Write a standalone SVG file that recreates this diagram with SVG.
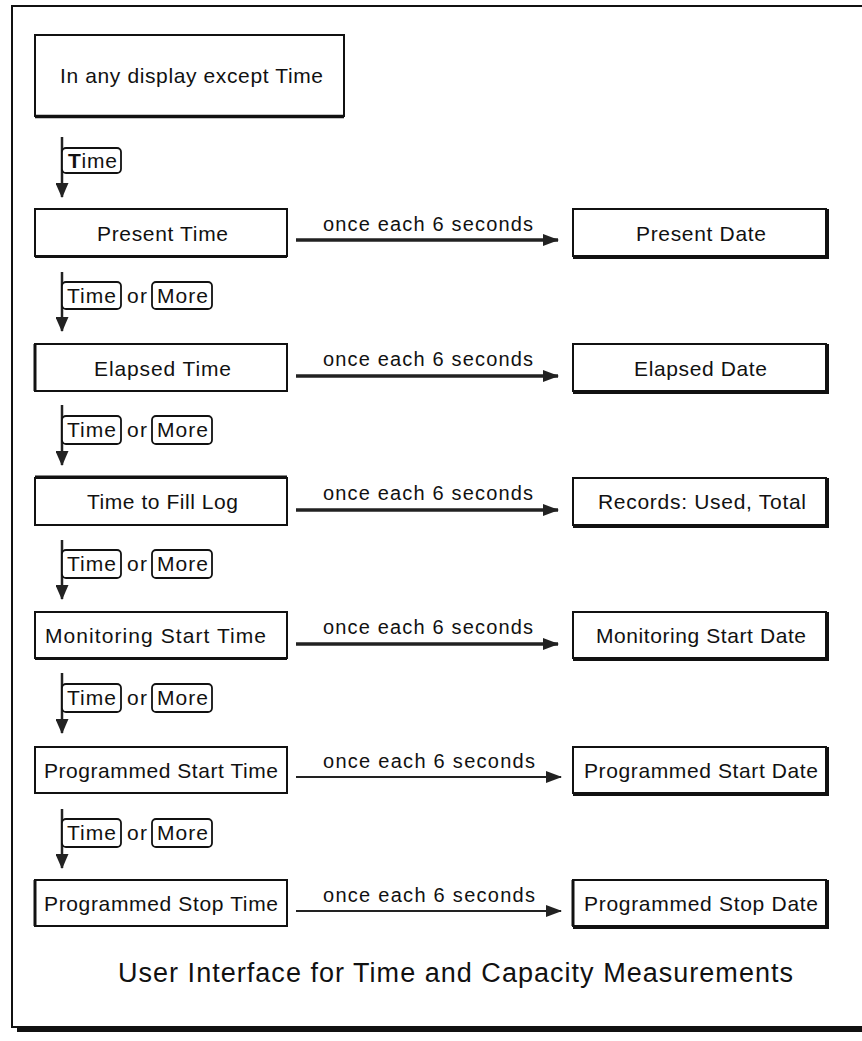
<svg xmlns="http://www.w3.org/2000/svg" width="862" height="1041" viewBox="0 0 862 1041">
<defs>
<style>
.t{font-family:"Liberation Sans",Arial,sans-serif;font-size:21px;fill:#111}
.lbl{font-family:"Liberation Sans",Arial,sans-serif;font-size:20px;fill:#111}
.key{font-family:"Liberation Sans",Arial,sans-serif;font-size:21px;fill:#111}
.box{fill:#fff;stroke:#111;stroke-width:2}
.sh{fill:none;stroke:#111;stroke-width:3}
.btn{fill:#fff;stroke:#111;stroke-width:1.8}
.thick{stroke:#222;stroke-width:3.5;fill:none}
.thin{stroke:#222;stroke-width:1.8;fill:none}
.vl{stroke:#222;stroke-width:2.5;fill:none}
</style>
<marker id="ah" viewBox="0 0 16 12" refX="15" refY="6" markerWidth="16" markerHeight="12" markerUnits="userSpaceOnUse" orient="auto"><path d="M0,0 L16,6 L0,12 Z" fill="#222"/></marker>
<marker id="ahv" viewBox="0 0 15 13" refX="14" refY="6.5" markerWidth="15" markerHeight="13" markerUnits="userSpaceOnUse" orient="auto"><path d="M0,0 L15,6.5 L0,13 Z" fill="#222"/></marker>
</defs>
<rect width="862" height="1041" fill="#fff"/>
<g id="frame">
<rect x="12" y="6" width="870" height="1021" fill="none" stroke="#111" stroke-width="2"/>
<line x1="17" y1="1030" x2="862" y2="1030" stroke="#111" stroke-width="4"/>
</g>
<g id="start">
<rect class="box" x="35" y="35" width="309" height="81"/>
<line x1="35" y1="116.5" x2="344" y2="116.5" stroke="#111" stroke-width="3.5"/>
<text class="t" x="60" y="83" textLength="263" lengthAdjust="spacing">In any display except Time</text>
</g>
<g id="present-time">
<rect class="box" x="35" y="209" width="252" height="47"/>
<line x1="35" y1="256.5" x2="287" y2="256.5" stroke="#111" stroke-width="3"/>
<text class="t" x="97" y="241" textLength="131" lengthAdjust="spacing">Present Time</text>
</g>
<g id="present-date">
<rect class="box" x="573" y="209" width="253" height="47"/>
<polyline class="sh" points="827.5,209 827.5,257.5 573,257.5"/>
<text class="t" x="636" y="241" textLength="130" lengthAdjust="spacing">Present Date</text>
</g>
<g id="elapsed-time">
<rect class="box" x="35" y="344" width="252" height="47"/>
<line x1="35" y1="344" x2="35" y2="391" stroke="#111" stroke-width="3"/>
<text class="t" x="94" y="376" textLength="137" lengthAdjust="spacing">Elapsed Time</text>
</g>
<g id="elapsed-date">
<rect class="box" x="573" y="344" width="253" height="47"/>
<polyline class="sh" points="827.5,344 827.5,392.5 573,392.5"/>
<text class="t" x="634" y="376" textLength="133" lengthAdjust="spacing">Elapsed Date</text>
</g>
<g id="time-to-fill">
<rect class="box" x="35" y="478" width="252" height="47"/>
<line x1="35" y1="477" x2="287" y2="477" stroke="#111" stroke-width="3"/>
<text class="t" x="87" y="509" textLength="151" lengthAdjust="spacing">Time to Fill Log</text>
</g>
<g id="records">
<rect class="box" x="573" y="478" width="253" height="47"/>
<polyline class="sh" points="827.5,478 827.5,526.5 573,526.5"/>
<text class="t" x="598" y="509" textLength="208" lengthAdjust="spacing">Records: Used, Total</text>
</g>
<g id="mon-start-time">
<rect class="box" x="35" y="612" width="252" height="46"/>
<line x1="35" y1="658.5" x2="287" y2="658.5" stroke="#111" stroke-width="3"/>
<text class="t" x="45" y="643" textLength="221" lengthAdjust="spacing">Monitoring Start Time</text>
</g>
<g id="mon-start-date">
<rect class="box" x="573" y="612" width="253" height="46"/>
<polyline class="sh" points="827.5,612 827.5,659.5 573,659.5"/>
<text class="t" x="596" y="643" textLength="210" lengthAdjust="spacing">Monitoring Start Date</text>
</g>
<g id="prog-start-time">
<rect class="box" x="35" y="747" width="252" height="46"/>
<text class="t" x="44" y="778" textLength="234" lengthAdjust="spacing">Programmed Start Time</text>
</g>
<g id="prog-start-date">
<rect class="box" x="573" y="747" width="253" height="46"/>
<polyline class="sh" points="827.5,747 827.5,794.5 573,794.5"/>
<text class="t" x="584" y="778" textLength="234" lengthAdjust="spacing">Programmed Start Date</text>
</g>
<g id="prog-stop-time">
<rect class="box" x="35" y="880" width="252" height="46"/>
<line x1="35" y1="880" x2="35" y2="926" stroke="#111" stroke-width="3"/>
<text class="t" x="44" y="911" textLength="234" lengthAdjust="spacing">Programmed Stop Time</text>
</g>
<g id="prog-stop-date">
<rect class="box" x="573" y="880" width="253" height="46"/>
<polyline class="sh" points="827.5,880 827.5,927.5 573,927.5"/>
<line x1="573" y1="880" x2="573" y2="926" stroke="#111" stroke-width="3"/>
<text class="t" x="584" y="911" textLength="234" lengthAdjust="spacing">Programmed Stop Date</text>
</g>
<g id="connectors">
<line class="vl" x1="62" y1="137" x2="62" y2="197" marker-end="url(#ahv)"/>
<line class="vl" x1="62" y1="272" x2="62" y2="331" marker-end="url(#ahv)"/>
<line class="vl" x1="62" y1="405" x2="62" y2="465" marker-end="url(#ahv)"/>
<line class="vl" x1="62" y1="540" x2="62" y2="599" marker-end="url(#ahv)"/>
<line class="vl" x1="62" y1="673" x2="62" y2="733" marker-end="url(#ahv)"/>
<line class="vl" x1="62" y1="809" x2="62" y2="868" marker-end="url(#ahv)"/>
<line class="thick" x1="296" y1="240" x2="558" y2="240" marker-end="url(#ah)"/>
<line class="thick" x1="296" y1="376" x2="558" y2="376" marker-end="url(#ah)"/>
<line class="thick" x1="296" y1="510" x2="558" y2="510" marker-end="url(#ah)"/>
<line class="thick" x1="296" y1="644" x2="558" y2="644" marker-end="url(#ah)"/>
<line class="thin" x1="296" y1="777" x2="561" y2="777" marker-end="url(#ah)"/>
<line class="thin" x1="296" y1="911" x2="561" y2="911" marker-end="url(#ah)"/>
<text class="lbl" x="323" y="231" textLength="210" lengthAdjust="spacing">once each 6 seconds</text>
<text class="lbl" x="323" y="366" textLength="210" lengthAdjust="spacing">once each 6 seconds</text>
<text class="lbl" x="323" y="500" textLength="210" lengthAdjust="spacing">once each 6 seconds</text>
<text class="lbl" x="323" y="634" textLength="210" lengthAdjust="spacing">once each 6 seconds</text>
<text class="lbl" x="323" y="768" textLength="212" lengthAdjust="spacing">once each 6 seconds</text>
<text class="lbl" x="323" y="902" textLength="212" lengthAdjust="spacing">once each 6 seconds</text>
<g id="keys">
<rect class="btn" x="62" y="148" width="59" height="25" rx="4"/>
<text class="key" x="68" y="168" textLength="49" lengthAdjust="spacing"><tspan font-weight="bold">T</tspan>ime</text>
<rect class="btn" x="62" y="282" width="59" height="27" rx="4"/>
<text class="key" x="67" y="303" textLength="49" lengthAdjust="spacing">Time</text>
<text class="key" x="127" y="303" textLength="20" lengthAdjust="spacing">or</text>
<rect class="btn" x="152" y="282" width="60" height="27" rx="4"/>
<text class="key" x="157" y="303" textLength="51" lengthAdjust="spacing">More</text>
<rect class="btn" x="62" y="416" width="59" height="28" rx="4"/>
<text class="key" x="67" y="437" textLength="49" lengthAdjust="spacing">Time</text>
<text class="key" x="127" y="437" textLength="20" lengthAdjust="spacing">or</text>
<rect class="btn" x="152" y="416" width="60" height="28" rx="4"/>
<text class="key" x="157" y="437" textLength="51" lengthAdjust="spacing">More</text>
<rect class="btn" x="62" y="550" width="59" height="28" rx="4"/>
<text class="key" x="67" y="571" textLength="49" lengthAdjust="spacing">Time</text>
<text class="key" x="127" y="571" textLength="20" lengthAdjust="spacing">or</text>
<rect class="btn" x="152" y="550" width="60" height="28" rx="4"/>
<text class="key" x="157" y="571" textLength="51" lengthAdjust="spacing">More</text>
<rect class="btn" x="62" y="684" width="59" height="28" rx="4"/>
<text class="key" x="67" y="705" textLength="49" lengthAdjust="spacing">Time</text>
<text class="key" x="127" y="705" textLength="20" lengthAdjust="spacing">or</text>
<rect class="btn" x="152" y="684" width="60" height="28" rx="4"/>
<text class="key" x="157" y="705" textLength="51" lengthAdjust="spacing">More</text>
<rect class="btn" x="62" y="819" width="59" height="28" rx="4"/>
<text class="key" x="67" y="840" textLength="49" lengthAdjust="spacing">Time</text>
<text class="key" x="127" y="840" textLength="20" lengthAdjust="spacing">or</text>
<rect class="btn" x="152" y="819" width="60" height="28" rx="4"/>
<text class="key" x="157" y="840" textLength="51" lengthAdjust="spacing">More</text>
</g>
</g>
<text id="title" x="118" y="982" font-family="'Liberation Sans',Arial,sans-serif" font-size="27" fill="#111" textLength="675" lengthAdjust="spacing">User Interface for Time and Capacity Measurements</text>
</svg>
